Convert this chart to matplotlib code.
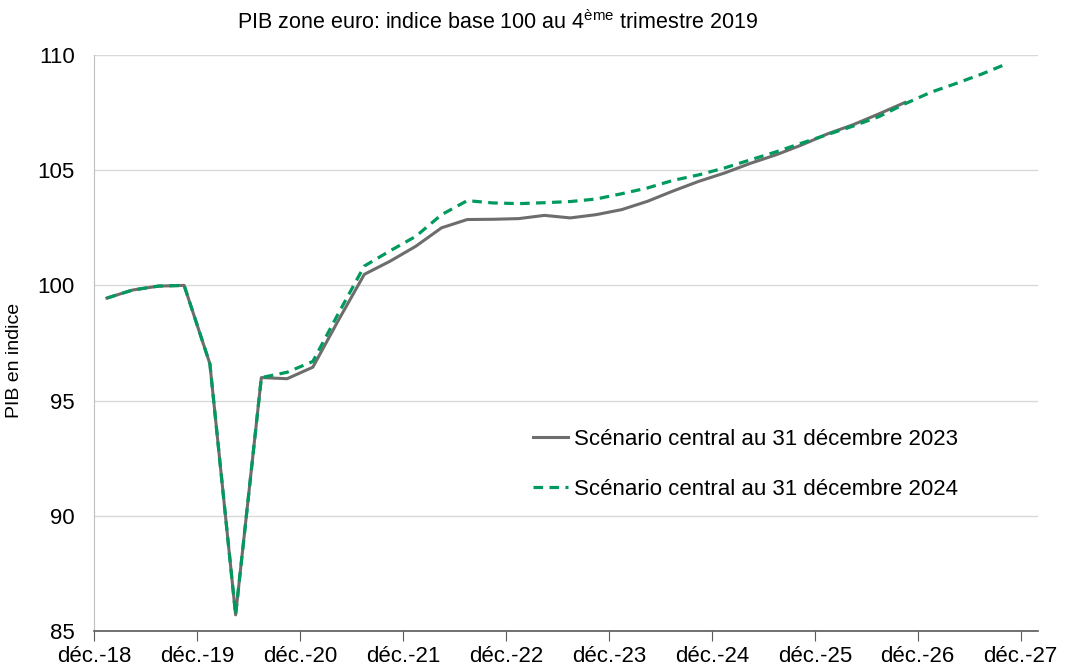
import matplotlib
matplotlib.use("Agg")
import matplotlib.pyplot as plt

plt.rcParams['font.family'] = ['Liberation Sans', 'DejaVu Sans']
plt.rcParams['mathtext.fontset'] = 'custom'
plt.rcParams['mathtext.rm'] = 'Liberation Sans'

# quarterly index, Q1 2019 onwards (base 100 = Q4 2019)
pib_2023 = [99.45, 99.8, 99.97, 100.0, 96.6, 85.7, 96.0, 95.95, 96.45, 98.5,
            100.48, 101.05, 101.7, 102.5, 102.86, 102.87, 102.9, 103.04, 102.93, 103.07,
            103.29, 103.65, 104.1, 104.52, 104.88, 105.3, 105.67, 106.1, 106.58, 106.98,
            107.45, 107.94]
pib_2024 = [99.45, 99.8, 99.97, 100.0, 96.6, 85.7, 96.0, 96.23, 96.7, 98.8,
            100.84, 101.5, 102.13, 103.07, 103.68, 103.58, 103.55, 103.59, 103.64, 103.75,
            103.98, 104.23, 104.56, 104.8, 105.1, 105.45, 105.8, 106.18, 106.55, 106.92,
            107.33, 107.88, 108.38, 108.77, 109.18, 109.64]
tick_labels = ['déc.-18', 'déc.-19', 'déc.-20', 'déc.-21', 'déc.-22',
               'déc.-23', 'déc.-24', 'déc.-25', 'déc.-26', 'déc.-27']

fig = plt.figure(figsize=(10.65, 6.67), dpi=100)
ax = fig.add_axes([0.0883, 0.054, 0.8863, 0.8635])

x23 = [i + 0.5 for i in range(len(pib_2023))]
x24 = [i + 0.5 for i in range(len(pib_2024))]
ax.plot(x23, pib_2023, color='#6d6d6d', lw=2.2, solid_joinstyle='round',
        label='Scénario central au 31 décembre 2023', zorder=3)
ax.plot(x24, pib_2024, color='#009a5e', lw=2.3, ls=(0, (3, 2)),
        label='Scénario central au 31 décembre 2024', zorder=4)

ax.set_xlim(0, 36.67)
ax.set_ylim(85, 110)
ax.set_xticks([4 * k for k in range(len(tick_labels))])
ax.set_xticklabels(tick_labels)
ax.set_yticks([85, 90, 95, 100, 105, 110])

ax.grid(axis='y', color='#d9d9d9', lw=1)
ax.set_axisbelow(True)
for s in ['top', 'right']:
    ax.spines[s].set_visible(False)
ax.spines['left'].set_color('#bfbfbf')
ax.spines['bottom'].set_color('#595959')
ax.spines['bottom'].set_linewidth(1.2)
ax.tick_params(axis='y', length=0, pad=14, labelsize=16)
ax.tick_params(axis='x', direction='out', length=7, color='#595959', pad=4, labelsize=16)

ax.set_ylabel('PIB en indice', fontsize=14, labelpad=6)
ax.yaxis.set_label_coords(-0.075, 0.47)
fig.text(0.467, 0.966, 'PIB zone euro: indice base 100 au 4$^{\\mathrm{ème}}$ trimestre 2019',
         ha='center', va='center', fontsize=15.5)

ax.legend(loc='upper left', bbox_to_anchor=(0.444, 0.385), frameon=False, fontsize=16,
          handlelength=1.55, handletextpad=0.3, labelspacing=1.3)

fig.savefig('out.png', dpi=100)
